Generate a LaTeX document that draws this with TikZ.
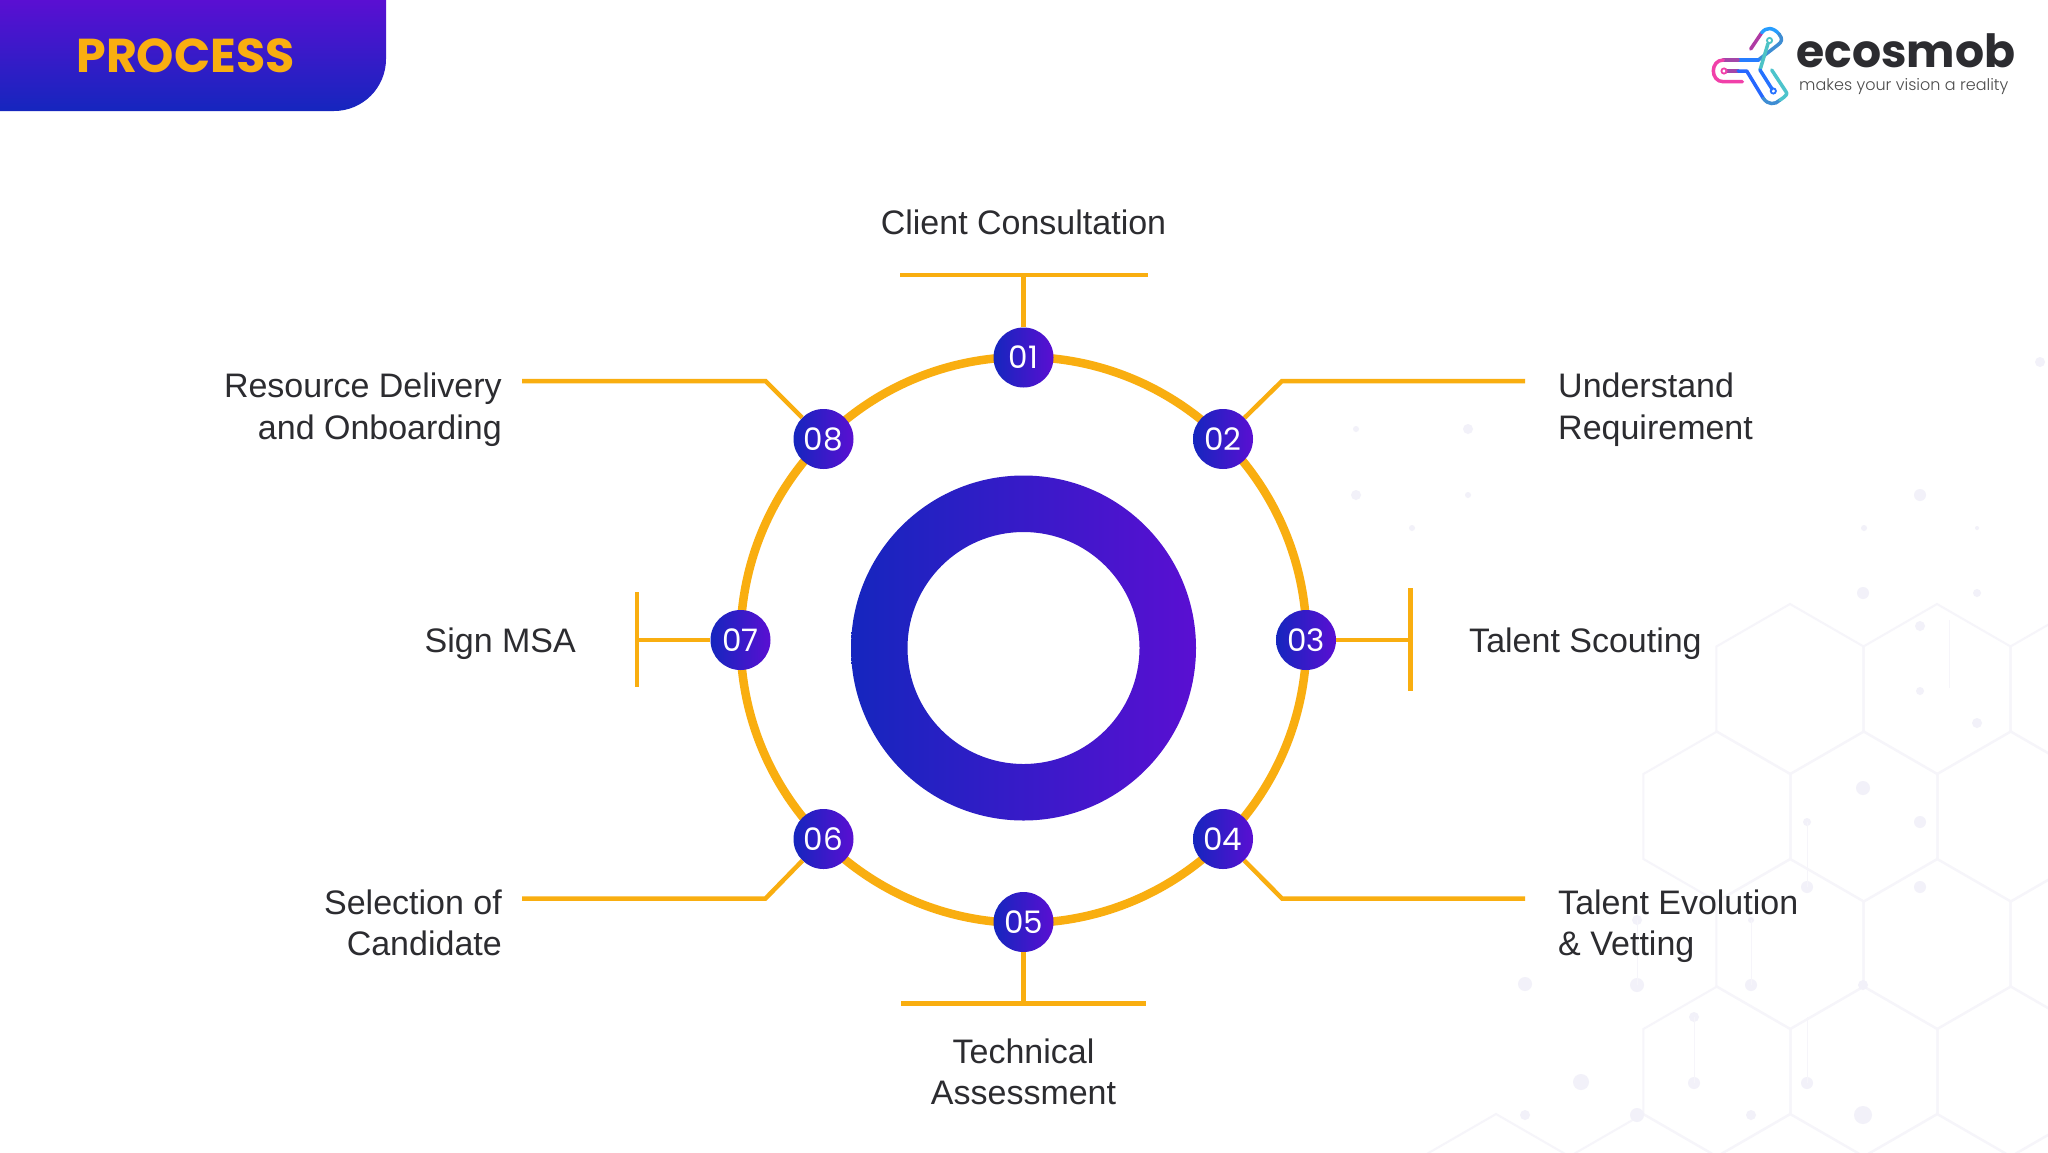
\documentclass[tikz,border=0pt]{standalone}
\usepackage{fontspec}
\setmainfont{Liberation Sans}
\newfontfamily\popfont{Poppins}
\newfontfamily\poplight{Poppins Light}
\usetikzlibrary{arrows.meta,positioning,calc,shapes.geometric}

\definecolor{gold}{HTML}{F9AE10}
\definecolor{deepblue}{HTML}{1526BE}
\definecolor{deeppurple}{HTML}{5A0FD2}
\definecolor{inkgrey}{HTML}{2C2C30}
\definecolor{hexgrey}{HTML}{F6F5FA}
\definecolor{dotgrey}{HTML}{F2F1F9}

\begin{document}
\begin{tikzpicture}[
  x=1pt, y=-1pt,
  stepdot/.style={circle, minimum size=60pt, inner sep=0pt, left color=deepblue, right color=deeppurple, text=white, font=\popfont\fontsize{31}{31}\selectfont},
  ring/.style={draw=gold, line width=8.5pt},
  leader/.style={draw=gold, line width=4.5pt},
  lab/.style={inner sep=0pt, text=inkgrey, font=\fontsize{34}{41.7}\selectfont},
  hexline/.style={draw=hexgrey, line width=2pt},
  swirl/.style={line width=3.5pt, line cap=round, line join=round}
]
\useasboundingbox (0,0) rectangle (2048,1152);
\fill[white] (0,0) rectangle (2048,1152);

% background honeycomb
\foreach \cx/\cy in {1790/689,1937/689,2084/689,1717/816.5,1864/816.5,2011/816.5,1790/944,1937/944,2084/944,1717/1071.5,1864/1071.5,2011/1071.5,1643/1199,1790/1199,1937/1199,2084/1199,1496/1199}
  \draw[hexline] (\cx,\cy-85) -- (\cx+73.6,\cy-42.5) -- (\cx+73.6,\cy+42.5) -- (\cx,\cy+85) -- (\cx-73.6,\cy+42.5) -- (\cx-73.6,\cy-42.5) -- cycle;
\foreach \cx/\cy/\r in {1863/593/6,1977/593/4,1920/626/5,1920/691/4,1977/723/5,1863/788/7,1807/822/4,1920/822/6,1807/887/6,1920/887/6,1637/985/7,1751/985/6,1863/985/5,1694/1017/5,1694/1083/6,1807/1083/6,1637/1115/7,1751/1115/5,1863/1115/9,1637/920/5,1751/920/3,1468/429/5,1356/429/3,1356/495/5,1468/495/3,1412/528/3,1920/495/6,1864/528/3,1977/528/2,2040/362/5,1525/984/7,1581/1082/8,1525/1115/5}
  \fill[dotgrey] (\cx,\cy) circle[radius=\r];
\foreach \lx/\ly/\lz in {1949/620/688,1807/822/887,1751/920/985,1694/1017/1083,1807/1017/1083,1637/920/985}
  \draw[hexgrey, line width=1pt] (\lx,\ly) -- (\lx,\lz);

% title tab
\path[top color=deeppurple, bottom color=deepblue] (0,0) -- (386,0) [rounded corners=52pt] -- (386,111) [sharp corners] -- (0,111) -- cycle;
\node[text=gold, font=\popfont\bfseries\fontsize{47.5}{47.5}\selectfont, inner sep=0pt] (title) at (185.5,55.5) {PROCESS};

% logo
\draw[swirl, color=magenta!60!blue!80!white] (1750.7,49) -- (1761.7,32.7);
\draw[swirl, color=blue!45!cyan!85!white] (1761.7,32.7) .. controls (1766,27) and (1773,27) .. (1779,34);
\draw[swirl, color=cyan!60!blue!80!white] (1779,34) .. controls (1783,39) and (1782,42) .. (1777.7,45) -- (1758.3,60);
\draw[swirl, color=blue!60!cyan!85!white] (1758.3,60) -- (1738,60);
\draw[swirl, color=magenta!50!blue!75!white] (1738,60) -- (1723.3,60);
\draw[swirl, color=magenta!75!white] (1723.3,60) .. controls (1710,60) and (1710,81.7) .. (1723.3,81.7) -- (1742.3,81.7);
\draw[swirl, color=magenta!50!blue!75!white] (1727,71) -- (1738,71);
\draw[swirl, color=blue!70!cyan!85!white] (1738,71) -- (1746.7,71) -- (1763.3,98.3);
\draw[swirl, color=cyan!60!blue!80!white] (1763.3,98.3) .. controls (1768,105) and (1775,105) .. (1780,100);
\draw[swirl, color=cyan!70!green!70!white] (1780,100) .. controls (1786,96) and (1788,94) .. (1786,91.7) -- (1771.7,70);
\draw[swirl, color=cyan!65!green!70!white] (1768,43.5) -- (1760,70);
\draw[swirl, color=blue!65!cyan!85!white] (1760,70) -- (1772,89);
\draw[color=cyan!65!green!70!white, line width=1.8pt] (1769.5,40.5) circle[radius=2.6];
\draw[color=magenta!75!white, line width=1.8pt] (1724,71) circle[radius=2.6];
\draw[color=blue!65!cyan!85!white, line width=1.8pt] (1773.3,91) circle[radius=2.6];
\node[anchor=base west, inner sep=0pt, text=inkgrey, font=\popfont\bfseries\fontsize{45.7}{46}\selectfont] (brand) at (1796,67) {ecosmob};
\node[anchor=base west, inner sep=0pt, text=black!70, font=\poplight\fontsize{16}{16}\selectfont] (tagline) at (1799,90) {makes your vision a reality};

% ring and centre
\coordinate (hub) at (1023.5,648);
\draw[ring] (1023.5,640) circle[radius=283];
\path[even odd rule, left color=deepblue, right color=deeppurple] (hub) circle[radius=172.5] (hub) circle[radius=116];

\node[stepdot] (s01) at (1023.5,357.5) {01};
\node[stepdot] (s02) at (1223,439) {02};
\node[stepdot] (s03) at (1306,640) {03};
\node[stepdot] (s04) at (1223,839) {04};
\node[stepdot] (s05) at (1023.5,922) {05};
\node[stepdot] (s06) at (823.5,839) {06};
\node[stepdot] (s07) at (740.5,640) {07};
\node[stepdot] (s08) at (823.5,439) {08};

% leaders
\coordinate (t01) at (1023.5,275);
\coordinate (e02) at (1282,381);
\coordinate (t03) at (1410.5,640);
\coordinate (e04) at (1282,898.5);
\coordinate (t05) at (1023.5,1003.5);
\coordinate (e06) at (765.5,898.5);
\coordinate (t07) at (637,640);
\coordinate (e08) at (765.5,381);

\draw[leader] (s01) -- (t01);
\draw[leader] (900,275) -- (1148,275);
\draw[leader] (s02) -- (e02) -- (1525,381);
\draw[leader] (s03) -- (t03);
\draw[leader] (1410.5,588) -- (1410.5,691);
\draw[leader] (s04) -- (e04) -- (1525,898.5);
\draw[leader] (s05) -- (t05);
\draw[leader] (901,1003.5) -- (1146,1003.5);
\draw[leader] (s06) -- (e06) -- (522,898.5);
\draw[leader] (s07) -- (t07);
\draw[leader] (637,592) -- (637,687);
\draw[leader] (s08) -- (e08) -- (522,381);

% labels
\node[lab, anchor=base] (l01) at (1023.5,234) {Client Consultation};
\node[lab, anchor=base west, align=left] (l02) at (1558,439.4) {Understand\\Requirement};
\node[lab, anchor=base west] (l03) at (1469,652) {Talent Scouting};
\node[lab, anchor=base west, align=left] (l04) at (1558,955.7) {Talent Evolution\\\& Vetting};
\node[lab, anchor=base, align=center] (l05) at (1023.5,1104.7) {Technical\\Assessment};
\node[lab, anchor=base east, align=right] (l06) at (502,955.7) {Selection of\\Candidate};
\node[lab, anchor=base east] (l07) at (576,652) {Sign MSA};
\node[lab, anchor=base east, align=right] (l08) at (502,439.4) {Resource Delivery\\and Onboarding};

\end{tikzpicture}
\end{document}
